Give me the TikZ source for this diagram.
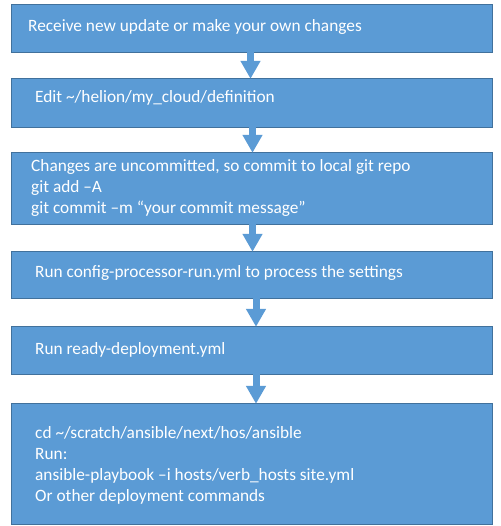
\documentclass[tikz,border=0pt]{standalone}
\usepackage{fontspec}
\setmainfont{Carlito}
\usetikzlibrary{arrows.meta}
\definecolor{boxblue}{HTML}{5B9BD5}
\definecolor{boxedge}{HTML}{41719C}
\begin{document}
\begin{tikzpicture}[x=1pt,y=-1pt,
  flowbox/.style={draw=boxedge,line width=0.8pt,fill=boxblue},
  flowtext/.style={anchor=base west,inner sep=0pt,text=white,align=left,
    font=\fontsize{17.3}{21}\selectfont},
  flowarrow/.style={draw=boxblue,line width=7pt,
    -{Triangle[width=19pt,length=18pt]}}]
\useasboundingbox (0,0) rectangle (500,526);
\fill[white] (0,0) rectangle (500,526);
\path[flowbox] (11,4) rectangle (492,52);
\path[flowbox] (11,78) rectangle (492,127);
\path[flowbox] (11,152) rectangle (492,224);
\path[flowbox] (11,251) rectangle (492,298);
\path[flowbox] (11,326) rectangle (492,374);
\path[flowbox] (11,403) rectangle (492,524);
\node[minimum width=481pt,minimum height=48pt,inner sep=0pt] (b1) at (251.5,28) {};
\node[minimum width=481pt,minimum height=49pt,inner sep=0pt] (b2) at (251.5,102.5) {};
\node[minimum width=481pt,minimum height=72pt,inner sep=0pt] (b3) at (251.5,188) {};
\node[minimum width=481pt,minimum height=47pt,inner sep=0pt] (b4) at (251.5,274.5) {};
\node[minimum width=481pt,minimum height=48pt,inner sep=0pt] (b5) at (251.5,350) {};
\node[minimum width=481pt,minimum height=121pt,inner sep=0pt] (b6) at (251.5,463.5) {};
\node[flowtext] (t1) at (28,32) {Receive new update or make your own changes};
\node[flowtext] (t2) at (35,103) {Edit \char"7E/helion/my\_cloud/definition};
\node[flowtext] (t3) at (31,214) {Changes are uncommitted, so commit to local git repo\\git add –A\\git commit –m “your commit message”};
\node[flowtext] (t4) at (35,277) {Run config-processor-run.yml to process the settings};
\node[flowtext] (t5) at (35,354) {Run ready-deployment.yml};
\node[flowtext] (t6) at (35,501) {cd \char"7E/scratch/ansible/next/hos/ansible\\Run:\\ansible-playbook –i hosts/verb\_hosts site.yml\\Or other deployment commands};
\draw[flowarrow] (b1.south -| 250.5,0) -- ([yshift=-1pt]b2.north -| 250.5,0);
\draw[flowarrow] (b2.south -| 252.5,0) -- ([yshift=-1pt]b3.north -| 252.5,0);
\draw[flowarrow] (b3.south -| 252.5,0) -- ([yshift=-1pt]b4.north -| 252.5,0);
\draw[flowarrow] (b4.south -| 256,0) -- ([yshift=-1pt]b5.north -| 256,0);
\draw[flowarrow] (b5.south -| 256,0) -- ([yshift=-1pt]b6.north -| 256,0);
\end{tikzpicture}
\end{document}
